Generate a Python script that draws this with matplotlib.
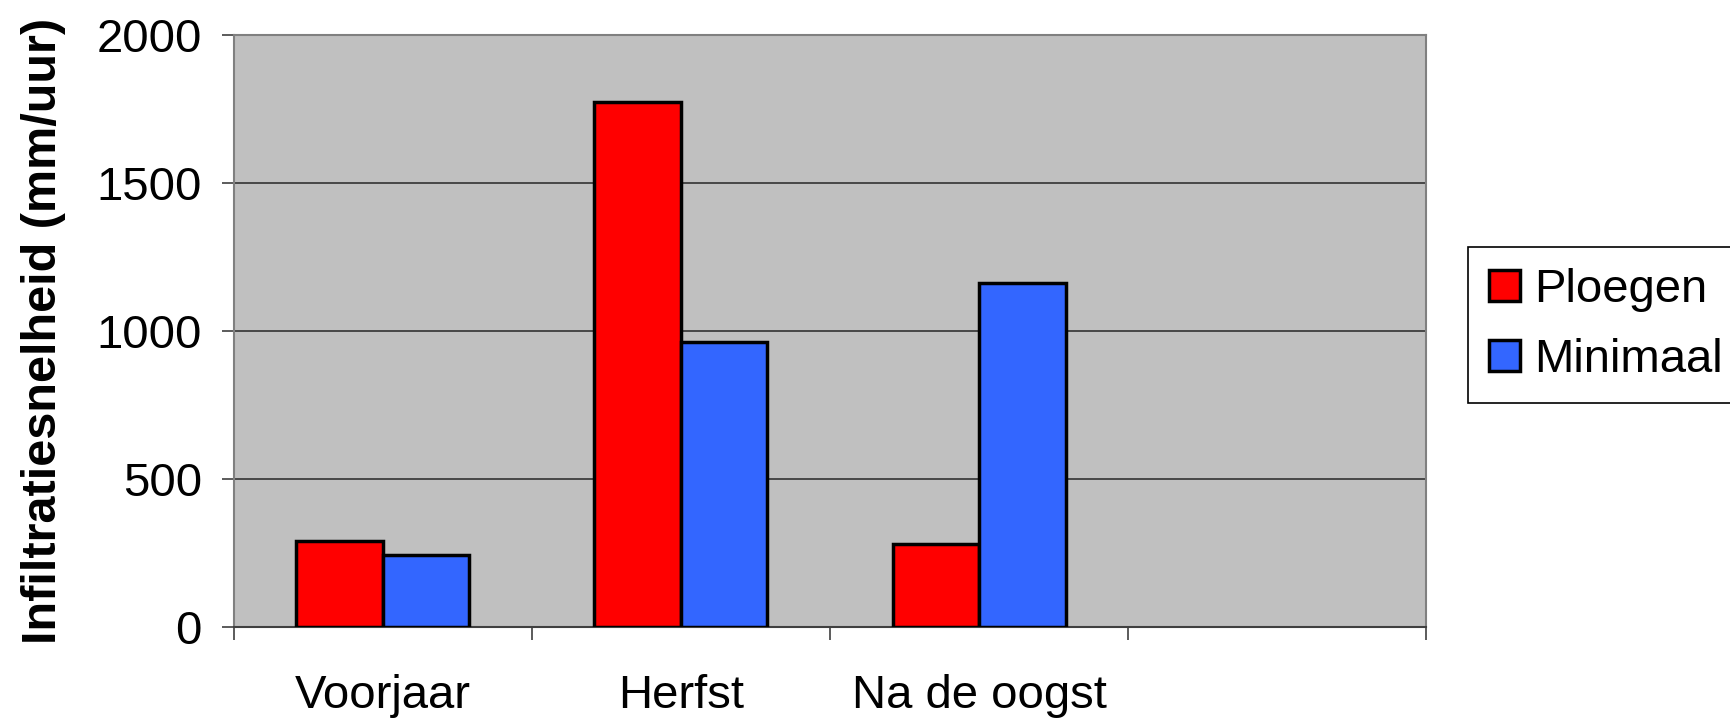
import numpy as np
import matplotlib
matplotlib.use('Agg')
import matplotlib.pyplot as plt

plt.rcParams['font.family'] = ['Liberation Sans', 'DejaVu Sans']

# data
categories = ['Voorjaar', 'Herfst', 'Na de oogst', '']
ploegen = [291, 1776, 280, np.nan]
minimaal = [243, 963, 1164, np.nan]
yticks = [0, 500, 1000, 1500, 2000]

fig = plt.figure(figsize=(17.31, 7.22), dpi=100)
ax = fig.add_axes([0.135, 0.132, 0.689, 0.819])

x = np.arange(len(categories))
w = 0.29
ax.bar(x - w / 2, ploegen, w, color='#ff0000', edgecolor='black', linewidth=2.5,
       label='Ploegen', zorder=3)
ax.bar(x + w / 2, minimaal, w, color='#3366ff', edgecolor='black', linewidth=2.5,
       label='Minimaal', zorder=3)

ax.set_facecolor('#c0c0c0')
ax.set_xlim(-0.5, len(categories) - 0.5)
ax.set_ylim(0, 2000)
ax.set_yticks(yticks)
ax.yaxis.grid(True, color='#333333', linewidth=1.2, zorder=1)

for s in ['top', 'right', 'left']:
    ax.spines[s].set_color('#808080')
    ax.spines[s].set_linewidth(1.5)
ax.spines['bottom'].set_color('#404040')
ax.spines['bottom'].set_linewidth(1.5)

ax.set_xticks(x)
ax.set_xticklabels(categories, fontsize=34)
ax.tick_params(axis='x', which='major', length=0, pad=34)
ax.set_xticks(np.arange(-0.5, len(categories), 1), minor=True)
ax.tick_params(axis='x', which='minor', length=9, color='#404040', width=1.2)
ax.tick_params(axis='y', labelsize=34, length=9, pad=14, color='#404040', width=1.2)

ax.set_ylabel('Infiltratiesnelheid (mm/uur)', fontsize=35, fontweight='bold', labelpad=22)

leg = fig.legend(loc='center left', bbox_to_anchor=(0.848, 0.55), fontsize=34,
                 frameon=True, fancybox=False, edgecolor='black', framealpha=1,
                 handlelength=0.65, handleheight=0.65, handletextpad=0.3,
                 borderpad=0.45, labelspacing=0.55, borderaxespad=0)
leg.get_frame().set_linewidth(1.2)
for h in leg.legend_handles:
    h.set_linewidth(2.5)

fig.savefig('out.png', dpi=100)
